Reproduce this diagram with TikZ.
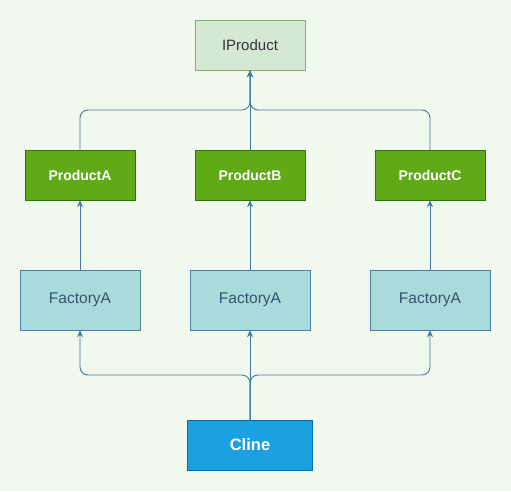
\documentclass[tikz,border=0pt]{standalone}
\usepackage{fontspec}
\setmainfont{Liberation Sans}
\usetikzlibrary{arrows.meta}
\definecolor{bgc}{HTML}{F1F9EF}
\definecolor{ipfill}{HTML}{D5E8D4}
\definecolor{ipline}{HTML}{82B366}
\definecolor{pfill}{HTML}{60A917}
\definecolor{pline}{HTML}{2D7600}
\definecolor{ffill}{HTML}{A9DADC}
\definecolor{fline}{HTML}{4A7FAA}
\definecolor{ftext}{HTML}{34536F}
\definecolor{cfill}{HTML}{1BA1E2}
\definecolor{cline}{HTML}{006EAF}
\definecolor{edge}{HTML}{45799F}
\tikzset{
  ipbox/.style={draw=ipline, fill=ipfill, minimum width=110pt, minimum height=50pt, inner sep=0pt, font=\fontsize{15}{18}\selectfont, text=black!80},
  pbox/.style={draw=pline, fill=pfill, minimum width=110pt, minimum height=50pt, inner sep=0pt, font=\fontsize{14}{17}\selectfont\bfseries, text=white},
  fbox/.style={draw=fline, fill=ffill, minimum width=120pt, minimum height=60pt, inner sep=0pt, font=\fontsize{15.5}{18}\selectfont, text=ftext},
  cbox/.style={draw=cline, fill=cfill, minimum width=125pt, minimum height=50pt, inner sep=0pt, font=\fontsize{16.5}{19}\selectfont\bfseries, text=white},
  conn/.style={draw=edge, line width=0.9pt, rounded corners=8pt, -{Stealth[length=7pt,width=6pt]}},
  connplain/.style={draw=edge, line width=0.9pt, rounded corners=8pt}
}
\begin{document}
\begin{tikzpicture}[x=1pt,y=-1pt]
\fill[bgc] (0,0) rectangle (511,491);
\useasboundingbox (0,0) rectangle (511,491);
\node[ipbox] (ip) at (250,45) {IProduct};
\node[pbox] (pa) at (80,175) {ProductA};
\node[pbox] (pb) at (250,175) {ProductB};
\node[pbox] (pc) at (430,175) {ProductC};
\node[fbox] (fa) at (80,300) {FactoryA};
\node[fbox] (fb) at (250,300) {FactoryA};
\node[fbox] (fc) at (430,300) {FactoryA};
\node[cbox] (cl) at (250,445) {Cline};
% products to interface
\draw[conn] (pa.north) -- (80,110) -- (250,110) -- (ip.south);
\draw[conn] (pc.north) -- (430,110) -- (250,110) -- (ip.south);
\draw[conn] (pb.north) -- (ip.south);
% factories to products
\draw[conn] (fa.north) -- (pa.south);
\draw[conn] (fb.north) -- (pb.south);
\draw[conn] (fc.north) -- (pc.south);
% client to factories
\draw[conn] (cl.north) -- (250,375) -- (80,375) -- (fa.south);
\draw[conn] (cl.north) -- (250,375) -- (430,375) -- (fc.south);
\draw[conn] (cl.north) -- (fb.south);
\end{tikzpicture}
\end{document}
